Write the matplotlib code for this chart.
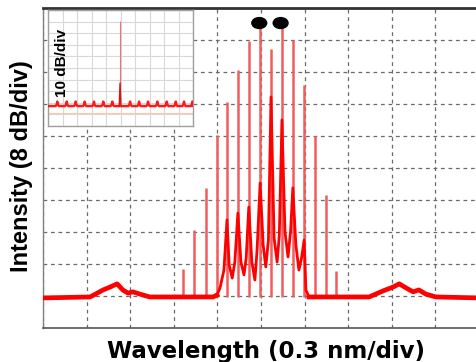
import matplotlib
matplotlib.use("Agg")
import matplotlib.pyplot as plt
from matplotlib.patches import Ellipse

# ---------------- data (in divisions) ----------------
# main spectrum: discrete comb lines (position, top level)
line_pos = [3.21, 3.46, 3.74, 3.99, 4.22, 4.47, 4.72, 4.98, 5.23, 5.48, 5.73, 5.99, 6.24, 6.49, 6.72]
line_top = [1.84, 3.06, 4.38, 6.03, 7.06, 8.06, 8.97, 9.47, 8.72, 9.47, 9.00, 7.59, 6.00, 4.16, 1.78]
line_base = 0.97

# continuous trace: left floor, pedestal, right floor
floor_left_x = [0.00, 1.08, 1.38, 1.54, 1.70, 1.83, 1.95, 2.06, 2.22, 2.45, 3.90, 3.99]
floor_left_y = [0.94, 0.97, 1.19, 1.28, 1.38, 1.19, 1.09, 1.13, 1.06, 0.97, 0.97, 1.03]

ped_x = [3.99, 4.06, 4.15, 4.22, 4.27, 4.34, 4.40, 4.47, 4.54, 4.61, 4.66, 4.72,
         4.79, 4.86, 4.91, 4.98, 5.05, 5.11, 5.17, 5.23, 5.30, 5.37, 5.42, 5.48,
         5.55, 5.62, 5.68, 5.73, 5.80, 5.87, 5.93, 5.99, 6.03, 6.10]
ped_y = [1.03, 1.25, 1.81, 3.38, 1.97, 1.56, 2.06, 3.59, 2.06, 1.66, 2.19, 3.78,
         2.06, 1.50, 2.44, 4.53, 2.59, 1.91, 2.75, 7.22, 2.81, 2.06, 2.90, 6.50,
         3.00, 2.22, 3.05, 4.38, 2.59, 1.81, 2.19, 2.75, 1.19, 0.97]

floor_right_x = [6.10, 7.48, 7.80, 8.03, 8.17, 8.33, 8.49, 8.62, 8.78, 9.01, 10.0]
floor_right_y = [0.97, 0.97, 1.16, 1.28, 1.38, 1.25, 1.13, 1.19, 1.06, 0.97, 0.94]

# markers above the two strongest lines
dot_x = [4.96, 5.45]
dot_y = [9.53, 9.53]

# inset spectrum
inset_floor = 1.72
inset_small_pos = [0.64, 1.29, 1.91, 2.53, 3.17, 3.81, 4.43, 5.66, 6.28, 6.90, 7.54, 8.19, 8.81, 9.38, 9.96]
inset_small_top = 2.10
inset_spike_pos = 4.97
inset_spike_top = 9.05
inset_spike_shoulder = 3.70
inset_ref_level = 1.12

xlabel = "Wavelength (0.3 nm/div)"
ylabel = "Intensity (8 dB/div)"
inset_label = "10 dB/div"

# ---------------- figure ----------------
W, H = 476, 362
fig = plt.figure(figsize=(W / 100, H / 100), dpi=100)
fig.patch.set_facecolor("white")

ax = fig.add_axes([43 / W, 34 / H, (479 - 43) / W, 320 / H])
ax.set_xlim(0, 10)
ax.set_ylim(0, 10)
ax.set_xticks(range(11))
ax.set_yticks(range(11))
ax.tick_params(length=0, labelbottom=False, labelleft=False)
ax.grid(True, color="#6a6a6a", linestyle=(0, (3, 3)), linewidth=0.9)
ax.set_axisbelow(True)
ax.spines["top"].set_color("#333333")
ax.spines["top"].set_linewidth(2.0)
ax.spines["left"].set_color("#808080")
ax.spines["left"].set_linewidth(1.0)
ax.spines["left"].set_linestyle((0, (2, 1)))
ax.spines["bottom"].set_color("#555555")
ax.spines["bottom"].set_linewidth(1.2)
ax.spines["right"].set_visible(False)

ax.vlines(line_pos, line_base, line_top, color="#f25c5c", linewidth=1.8, zorder=3)
ax.plot(floor_left_x, floor_left_y, color="#ff0000", linewidth=3.4, zorder=4)
ax.plot(floor_right_x, floor_right_y, color="#ff0000", linewidth=3.4, zorder=4)
ax.plot(ped_x, ped_y, color="#ff0000", linewidth=2.0, zorder=4)
for x, y in zip(dot_x, dot_y):
    ax.add_patch(Ellipse((x, y), 0.34, 0.34, color="black", zorder=6))

fig.text(22 / W, 1 - 166 / H, ylabel, rotation=90, ha="center", va="center",
         fontsize=17, fontweight="bold", family="Liberation Sans")
fig.text(266 / W, (H - 358) / H, xlabel, ha="center", va="baseline",
         fontsize=16.5, fontweight="bold", family="DejaVu Sans")

# ---------------- inset ----------------
ins = fig.add_axes([48 / W, (H - 126) / H, 145 / W, 116 / H])
ins.set_facecolor("white")
ins.set_xlim(0, 10)
ins.set_ylim(0, 10)
ins.set_xticks(range(11))
ins.set_yticks(range(11))
ins.tick_params(length=0, labelbottom=False, labelleft=False)
ins.grid(True, color="#d8d8d8", linewidth=0.8)
ins.set_axisbelow(True)
for s in ins.spines.values():
    s.set_color("#a0a0a0")
    s.set_linewidth(1.0)

ix, iy = [0.0], [inset_floor]
for p in inset_small_pos:
    ix += [p - 0.12, p - 0.04, p, p + 0.04, p + 0.12]
    iy += [inset_floor, inset_floor + 0.12, inset_small_top, inset_floor + 0.12, inset_floor]
ix.append(10.0)
iy.append(inset_floor)
order = sorted(range(len(ix)), key=lambda i: ix[i])
ins.axhline(inset_ref_level, color="#f9c9a8", linewidth=0.8, zorder=2)
ins.plot([ix[i] for i in order], [iy[i] for i in order], color="#ff1a1a", linewidth=1.8, zorder=3)
ins.vlines([inset_spike_pos], inset_floor, inset_spike_top, color="#f07070", linewidth=0.8, zorder=4)
ins.plot([inset_spike_pos - 0.06, inset_spike_pos, inset_spike_pos + 0.06],
         [inset_floor, inset_spike_shoulder, inset_floor], color="#e01010", linewidth=1.0, zorder=4)
ins.text(0.95, 5.4, inset_label, rotation=90, ha="center", va="center",
         fontsize=11, fontweight="bold", family="Liberation Sans", zorder=5)

fig.savefig("out.png", dpi=100, facecolor="white")
